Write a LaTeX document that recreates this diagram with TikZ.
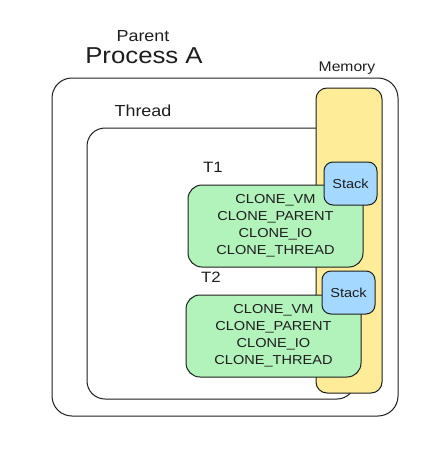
\documentclass[tikz,border=0pt]{standalone}
\usepackage{fontspec}
\setmainfont[FakeStretch=1.12]{Liberation Sans}
\definecolor{ink}{HTML}{1E1E1E}
\definecolor{memfill}{HTML}{FFEC99}
\definecolor{thrfill}{HTML}{B2F2BB}
\definecolor{stkfill}{HTML}{A5D8FF}
\tikzset{
  box/.style={draw=ink, line width=1pt, rounded corners=#1, inner sep=0pt, outer sep=0pt},
  box/.default=14pt,
  lbl/.style={text=ink, inner sep=0pt, anchor=center},
  flags/.style={lbl, align=center, font=\fontsize{13}{17}\selectfont},
}
\begin{document}
\begin{tikzpicture}[x=1pt,y=-1pt]
\useasboundingbox[fill=white] (0,0) rectangle (439,450);
% process
\node[box=20pt, minimum width=346pt, minimum height=338pt] (proc) at (225,247) {};
\node[lbl, font=\fontsize{16}{16}\selectfont] (parent) at (143,36) {Parent};
\node[lbl, font=\fontsize{23}{23}\selectfont] (pname) at (144,56) {Process A};
% thread
\node[box=18pt, minimum width=268pt, minimum height=271pt] (thread) at (221,263.5) {};
\node[lbl, font=\fontsize{16}{16}\selectfont] (threadlbl) at (143,111) {Thread};
% memory
\node[box=11pt, fill=memfill, minimum width=66pt, minimum height=305pt] (mem) at (349,240.5) {};
\node[lbl, font=\fontsize{14}{14}\selectfont] (memlbl) at (347,68) {Memory};
% T1
\node[lbl, font=\fontsize{15}{15}\selectfont] (t1lbl) at (213,167) {T1};
\node[box=14pt, fill=thrfill, flags, minimum width=175pt, minimum height=82pt] (t1) at (275.5,226)
  {CLONE\_VM\\CLONE\_PARENT\\CLONE\_IO\\CLONE\_THREAD};
\node[box=9pt, fill=stkfill, lbl, font=\fontsize{13}{13}\selectfont, minimum width=53pt, minimum height=43pt] (s1) at (350.5,183.5) {Stack};
% T2
\node[lbl, font=\fontsize{15}{15}\selectfont] (t2lbl) at (211,277) {T2};
\node[box=14pt, fill=thrfill, flags, minimum width=175pt, minimum height=82pt] (t2) at (273.5,336)
  {CLONE\_VM\\CLONE\_PARENT\\CLONE\_IO\\CLONE\_THREAD};
\node[box=9pt, fill=stkfill, lbl, font=\fontsize{13}{13}\selectfont, minimum width=53pt, minimum height=43pt] (s2) at (348.5,292.5) {Stack};
\end{tikzpicture}
\end{document}
